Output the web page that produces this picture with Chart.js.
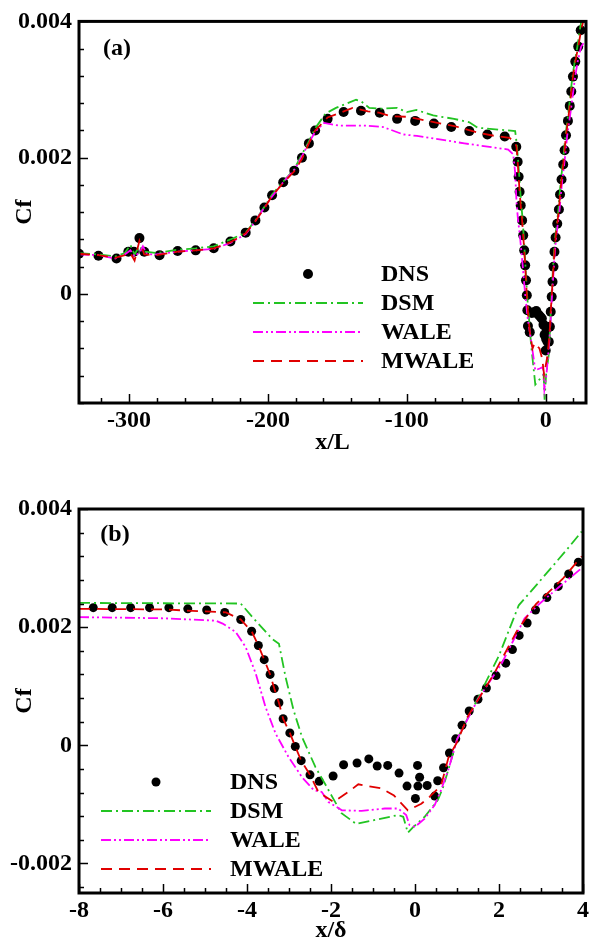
<!DOCTYPE html>
<html><head><meta charset="utf-8">
<script src="https://cdn.jsdelivr.net/npm/chart.js@4"></script>
<style>
html,body{margin:0;padding:0;background:#fff;width:592px;height:943px;overflow:hidden}
canvas{position:absolute;left:0}
#ca{top:0}#cb{top:470px}
</style></head>
<body>
<canvas id="ca" width="592" height="470"></canvas>
<canvas id="cb" width="592" height="473"></canvas>
<script>
// ---------- Panel (a) data : [x/L, Cf] ----------
const dnsA = [[-336,0.00059],[-322,0.00056],[-309,0.00052],[-300.5,0.00062],[-296.5,0.00062],[-292.5,0.00082],[-289,0.00062],[-278,0.00057],[-265,0.00063],[-252,0.00064],[-239,0.00067],[-227,0.00077],[-216,0.0009],[-209,0.00108],[-202.5,0.00127],[-197,0.00145],[-189,0.00164],[-181,0.00181],[-175.5,0.002],[-170.5,0.00221],[-166,0.0024],[-157,0.00257],[-145.5,0.00267],[-133,0.00269],[-119.5,0.00266],[-107,0.00257],[-94,0.00254],[-80.5,0.0025],[-68,0.00245],[-55,0.00239],[-42,0.00234],[-29.5,0.00231],[-21.2,0.00216],[-20.2,0.00194],[-19.5,0.00172],[-18.8,0.0015],[-18,0.0013],[-17,0.00108],[-16.2,0.00086],[-15.5,0.00064],[-14.8,0.00042],[-14.2,0.0002],[-13.6,-0.00002],[-13.2,-0.00024],[-12.8,-0.00047],[-11.5,-0.00056],[-10,-0.00028],[-8.5,-0.00027],[-6.8,-0.00025],[-5.3,-0.0003],[-4,-0.00033],[-2.8,-0.00036],[-1.6,-0.00045],[-0.8,-0.0006],[0,-0.00083],[0.3,-0.00066],[0.6,-0.00052],[1.3,-0.0007],[2.2,-0.0007],[3,-0.00048],[3.6,-0.00026],[4.3,-0.00004],[4.9,0.00018],[5.6,0.0004],[6.3,0.00062],[7.1,0.00083],[8.3,0.00103],[9.5,0.00124],[10.3,0.00146],[11.4,0.00168],[12.6,0.0019],[13.6,0.00211],[14.6,0.00233],[16,0.00254],[17.3,0.00276],[18.4,0.00297],[19.6,0.00319],[21.3,0.00341],[23.4,0.00363],[25.2,0.00387]];
const dsmA = [[-336,0.0006],[-322,0.00058],[-310,0.00055],[-303,0.0006],[-299,0.00072],[-296,0.00058],[-292.5,0.0007],[-289,0.00062],[-280,0.0006],[-265,0.00065],[-252,0.00067],[-239,0.0007],[-227,0.0008],[-216,0.0009],[-209,0.00108],[-202.5,0.00128],[-197,0.00146],[-189,0.00165],[-181,0.00183],[-176,0.00203],[-171,0.00222],[-166,0.00243],[-158.4,0.00265],[-151,0.00273],[-136.5,0.00285],[-133,0.00283],[-127,0.00273],[-118,0.00272],[-107,0.00273],[-100,0.00267],[-93,0.0027],[-81,0.00262],[-66,0.00257],[-55,0.00252],[-49,0.00244],[-22,0.00239],[-20.8,0.00219],[-19.8,0.00194],[-19,0.00172],[-18.3,0.0015],[-17.5,0.0013],[-16.6,0.00108],[-15.9,0.00086],[-15.2,0.00064],[-14.6,0.00042],[-14,0.0002],[-13.4,-0.00002],[-12.3,-0.0003],[-10.5,-0.00075],[-7.5,-0.00133],[-1.5,-0.00118],[-0.8,-0.00155],[0.3,-0.00118],[2.2,-0.00089],[3,-0.00055],[3.6,-0.0003],[4.1,-0.00004],[4.7,0.00018],[5.3,0.0004],[6,0.00062],[6.8,0.00083],[8,0.00103],[9.2,0.00124],[10,0.00146],[11,0.00168],[12.2,0.0019],[13.2,0.00211],[14.2,0.00233],[15.6,0.00254],[16.9,0.00276],[18,0.00297],[19.2,0.00319],[20.9,0.00341],[22.8,0.00363],[24.5,0.00387],[25.6,0.004]];
const waleA = [[-336,0.00058],[-322,0.00057],[-310,0.00052],[-303,0.00058],[-299,0.00064],[-296,0.00055],[-292,0.00062],[-290,0.0007],[-287,0.00058],[-280,0.00058],[-265,0.00062],[-252,0.00064],[-239,0.00066],[-227,0.00075],[-216,0.00088],[-209,0.00107],[-202.5,0.00127],[-197,0.00143],[-189,0.00164],[-181,0.00182],[-176,0.002],[-171,0.0022],[-166,0.00238],[-159.6,0.00251],[-148.7,0.00247],[-129,0.00247],[-117,0.00245],[-102.4,0.00234],[-92.7,0.00232],[-83,0.00229],[-58.6,0.00221],[-27,0.00212],[-23.4,0.00205],[-22,0.00178],[-21,0.00134],[-20,0.0011],[-18.6,0.00086],[-16.5,0.0004],[-15,0.00004],[-13,-0.00035],[-10.2,-0.00073],[-7.5,-0.00112],[-3.9,-0.00109],[-2,-0.00107],[-1,-0.0014],[0.5,-0.00119],[2.5,-0.00072],[3.5,-0.0004],[4.3,-0.0001],[5.2,0.00018],[5.9,0.0004],[6.6,0.00062],[7.5,0.00083],[8.7,0.00103],[10,0.00124],[10.9,0.00146],[12,0.00168],[13.3,0.0019],[14.4,0.00211],[15.5,0.00233],[17,0.00254],[18.5,0.00276],[19.8,0.00297],[21.2,0.00319],[23,0.00341],[25.5,0.00363],[28.5,0.00372]];
const mwaleA = [[-336,0.00059],[-322,0.00057],[-310,0.00053],[-303,0.00057],[-299,0.0006],[-296,0.00049],[-292.5,0.00078],[-289,0.00058],[-280,0.00057],[-265,0.00062],[-252,0.00064],[-239,0.00067],[-227,0.00076],[-216,0.00089],[-209,0.00107],[-202.5,0.00126],[-197,0.00144],[-189,0.00163],[-181,0.0018],[-175.5,0.00198],[-170.5,0.00221],[-166,0.0024],[-157,0.00259],[-148,0.00266],[-139,0.00273],[-128,0.00268],[-120,0.00266],[-112,0.00261],[-100,0.0026],[-92,0.00257],[-78,0.00251],[-65,0.00246],[-49,0.00237],[-37,0.00232],[-26,0.00229],[-22,0.00222],[-21,0.00216],[-20.2,0.00194],[-19.5,0.00172],[-18.8,0.0015],[-18,0.0013],[-17,0.00108],[-16.2,0.00086],[-15.5,0.00064],[-14.8,0.00042],[-14.2,0.0002],[-13.6,-0.00002],[-12.8,-0.00026],[-11.5,-0.00055],[-9.5,-0.0008],[-8,-0.00072],[-6.3,-0.00076],[-4.5,-0.0008],[-2.5,-0.00095],[-1.2,-0.00118],[0,-0.00105],[1,-0.00094],[2,-0.00075],[3,-0.0005],[3.6,-0.00026],[4.3,-0.00004],[4.9,0.00018],[5.6,0.0004],[6.3,0.00062],[7.1,0.00083],[8.3,0.00103],[9.5,0.00124],[10.3,0.00146],[11.4,0.00168],[12.6,0.0019],[13.6,0.00211],[14.6,0.00233],[16,0.00254],[17.3,0.00276],[18.4,0.00297],[19.6,0.00319],[21.3,0.00341],[23.4,0.00363],[25.5,0.00387],[27,0.004]];

// ---------- Panel (b) data : [x/delta, Cf] ----------
const dnsB = [[-7.66,0.00233],[-7.21,0.00233],[-6.77,0.00233],[-6.32,0.00233],[-5.86,0.00233],[-5.41,0.00231],[-4.96,0.00229],[-4.53,0.00225],[-4.15,0.00213],[-3.89,0.00193],[-3.73,0.00169],[-3.59,0.00145],[-3.45,0.0012],[-3.35,0.00096],[-3.24,0.00072],[-3.14,0.00045],[-2.98,0.00021],[-2.85,-0.00002],[-2.71,-0.00026],[-2.5,-0.0005],[-2.28,-0.00061],[-1.95,-0.00052],[-1.7,-0.00033],[-1.38,-0.0003],[-1.1,-0.00023],[-0.9,-0.00035],[-0.65,-0.00034],[-0.38,-0.00047],[-0.19,-0.00069],[0.01,-0.0009],[0.07,-0.00069],[0.06,-0.00034],[0.11,-0.00054],[0.29,-0.00068],[0.47,-0.00086],[0.54,-0.0006],[0.68,-0.00038],[0.82,-0.00013],[0.97,0.00011],[1.12,0.00034],[1.29,0.00058],[1.5,0.00078],[1.7,0.00097],[1.93,0.00118],[2.16,0.00139],[2.32,0.00162],[2.48,0.00186],[2.67,0.00207],[2.87,0.00229],[3.14,0.0025],[3.41,0.00269],[3.66,0.0029],[3.89,0.0031]];
const dsmB = [[-8,0.00241],[-4.15,0.0024],[-3.87,0.00217],[-3.4,0.0018],[-3.24,0.00172],[-3.08,0.00115],[-2.89,0.00059],[-2.69,0.00014],[-2.37,-0.00037],[-2.12,-0.00068],[-1.98,-0.00086],[-1.75,-0.00115],[-1.4,-0.00133],[-0.4,-0.00118],[-0.28,-0.00121],[-0.17,-0.00148],[-0.05,-0.00139],[0.23,-0.00121],[0.54,-0.00093],[0.66,-0.00073],[0.8,-0.0004],[1.0,0.0001],[1.5,0.0008],[2.0,0.00152],[2.47,0.00237],[2.9,0.00272],[3.6,0.0033],[3.97,0.00362]];
const waleB = [[-8,0.00217],[-6,0.00215],[-4.75,0.00211],[-4.58,0.00206],[-4.27,0.00192],[-4.03,0.00166],[-3.79,0.00121],[-3.56,0.00065],[-3.32,0.0002],[-3.01,-0.0002],[-2.69,-0.00054],[-2.41,-0.00076],[-2.22,-0.00079],[-2.06,-0.00096],[-1.74,-0.0011],[-1.27,-0.00111],[-0.72,-0.00107],[-0.4,-0.00107],[-0.21,-0.00118],[-0.13,-0.00135],[0,-0.00138],[0.23,-0.00124],[0.47,-0.00101],[0.62,-0.00076],[0.8,-0.0004],[1.0,0.0001],[1.5,0.00078],[2.06,0.00138],[2.61,0.00215],[2.97,0.0024],[3.43,0.00268],[3.97,0.003]];
const mwaleB = [[-8,0.00231],[-6,0.0023],[-4.5,0.00225],[-4.15,0.00213],[-3.89,0.00193],[-3.73,0.00169],[-3.59,0.00145],[-3.45,0.0012],[-3.35,0.00096],[-3.24,0.00072],[-3.14,0.00045],[-2.98,0.00021],[-2.85,-0.00002],[-2.71,-0.00026],[-2.5,-0.0005],[-2.3,-0.00079],[-1.94,-0.00096],[-1.59,-0.00079],[-1.35,-0.00066],[-0.8,-0.00073],[-0.5,-0.00085],[-0.17,-0.0011],[0.15,-0.00099],[0.35,-0.00087],[0.62,-0.00068],[0.8,-0.0002],[1.0,0.00005],[1.25,0.00048],[1.88,0.00121],[2.43,0.00194],[2.88,0.00239],[3.52,0.00282],[3.97,0.0032]];

// ---------- ticks / labels ----------
const seriesNames = ['DNS','DSM','WALE','MWALE'];
const xTicksA = [-300,-200,-100,0];
const xTickLabelsA = ['-300','-200','-100','0'];
const yTicksA = [0,0.002,0.004];
const yTickLabelsA = ['0','0.002','0.004'];
const xTicksB = [-8,-6,-4,-2,0,2,4];
const xTickLabelsB = ['-8','-6','-4','-2','0','2','4'];
const yTicksB = [-0.002,0,0.002,0.004];
const yTickLabelsB = ['-0.002','0','0.002','0.004'];

const FONT = "'Liberation Serif','Times New Roman',serif";
const C_GREEN = '#22c422', C_MAG = '#ff00ff', C_RED = '#e00000';
const toPts = a => a.map(p => ({x:p[0], y:p[1]}));

const framePlugin = {
  id: 'frame',
  afterDraw(chart, args, o) {
    const ctx = chart.ctx, ca = chart.chartArea, xs = chart.scales.x, ys = chart.scales.y;
    ctx.save();
    ctx.strokeStyle = '#000';
    ctx.lineWidth = 1.5;
    const eps = 1e-9;
    // inward ticks on x
    for (let v = Math.ceil(xs.min / o.xMinor) * o.xMinor; v <= xs.max + eps; v += o.xMinor) {
      const px = Math.round(xs.getPixelForValue(v)) + 0.5;
      const major = Math.abs(v / o.xMajor - Math.round(v / o.xMajor)) < 1e-6;
      ctx.beginPath(); ctx.moveTo(px, ca.bottom); ctx.lineTo(px, ca.bottom - (major ? 9 : 5)); ctx.stroke();
    }
    for (let v = Math.ceil(ys.min / o.yMinor - 1e-6) * o.yMinor; v <= ys.max + eps; v += o.yMinor) {
      const py = Math.round(ys.getPixelForValue(v)) + 0.5;
      const major = Math.abs(v / o.yMajor - Math.round(v / o.yMajor)) < 1e-6;
      ctx.beginPath(); ctx.moveTo(ca.left, py); ctx.lineTo(ca.left + (major ? 9 : 5), py); ctx.stroke();
    }
    // frame
    ctx.lineWidth = 3;
    ctx.strokeRect(ca.left, ca.top, ca.right - ca.left, ca.bottom - ca.top);
    // panel label
    ctx.fillStyle = '#000';
    ctx.font = 'bold 24px ' + FONT;
    ctx.textAlign = 'center'; ctx.textBaseline = 'middle';
    ctx.fillText(o.label, o.labelX, o.labelY);
    // legend
    const L = o.legend;
    chart.data.datasets.forEach((ds, i) => {
      const y = L.y0 + i * L.dy;
      if (ds.showLine === false) {
        ctx.beginPath(); ctx.fillStyle = '#000';
        ctx.arc(L.markX, y, ds.pointRadius, 0, Math.PI * 2); ctx.fill();
      } else {
        ctx.beginPath(); ctx.strokeStyle = ds.borderColor; ctx.lineWidth = ds.borderWidth;
        ctx.setLineDash(ds.borderDash); ctx.moveTo(L.lx0, y); ctx.lineTo(L.lx1, y); ctx.stroke();
        ctx.setLineDash([]);
      }
      ctx.fillStyle = '#000'; ctx.textAlign = 'left'; ctx.textBaseline = 'middle';
      ctx.fillText(ds.label, L.tx, y + 1);
    });
    ctx.restore();
  }
};

function makeChart(id, d, cfg) {
  const datasets = [
    {label: seriesNames[0], data: toPts(d[0]), showLine: false, pointRadius: cfg.r, pointBackgroundColor: '#000', pointBorderWidth: 0, order: 5},
    {label: seriesNames[1], data: toPts(d[1]), borderColor: C_GREEN, borderWidth: 1.8, borderDash: [11,4,2,4], pointRadius: 0, order: 3},
    {label: seriesNames[2], data: toPts(d[2]), borderColor: C_MAG, borderWidth: 1.8, borderDash: [10,3,2,3,2,3], pointRadius: 0, order: 2},
    {label: seriesNames[3], data: toPts(d[3]), borderColor: C_RED, borderWidth: 1.8, borderDash: [11,7], pointRadius: 0, order: 1}
  ];
  const tickFont = {family: FONT, size: 24, weight: 'bold'};
  return new Chart(document.getElementById(id), {
    type: 'line',
    data: {datasets},
    options: {
      responsive: false, animation: false, devicePixelRatio: 1,
      layout: {padding: {left: 0, right: 6, top: cfg.top, bottom: 0}},
      elements: {line: {tension: 0, fill: false}},
      plugins: {legend: {display: false}, tooltip: {enabled: false},
        frame: cfg.frame},
      scales: {
        x: {type: 'linear', min: cfg.xmin, max: cfg.xmax,
          grid: {display: false, drawTicks: false}, border: {display: false},
          afterBuildTicks: s => { s.ticks = cfg.xt.map(v => ({value: v})); },
          afterFit: s => { s.height = cfg.xh; },
          ticks: {font: tickFont, color: '#000', padding: 3, maxRotation: 0, autoSkip: false,
            callback: (v) => cfg.xl[cfg.xt.indexOf(v)]},
          title: {display: true, text: cfg.xTitle, color: '#000', font: {family: FONT, size: 24, weight: 'bold', lineHeight: 1}, padding: {top: 0, bottom: cfg.xtp}}
        },
        y: {type: 'linear', min: cfg.ymin, max: cfg.ymax,
          grid: {display: false, drawTicks: false}, border: {display: false},
          afterBuildTicks: s => { s.ticks = cfg.yt.map(v => ({value: v})); },
          afterFit: s => { s.width = 79; },
          ticks: {font: tickFont, color: '#000', padding: 7,
            callback: (v) => cfg.yl[cfg.yt.indexOf(v)]},
          title: {display: true, text: 'Cf', color: '#000', font: {family: FONT, size: 24, weight: 'bold', lineHeight: 1}, padding: {top: 13, bottom: 0}}
        }
      }
    },
    plugins: [framePlugin]
  });
}

makeChart('ca', [dnsA, dsmA, waleA, mwaleA], {
  r: 5, top: 18, xmin: -336, xmax: 29, ymin: -0.0016, ymax: 0.004,
  xt: xTicksA, xl: xTickLabelsA, yt: yTicksA, yl: yTickLabelsA,
  xh: 67, xtp: 15, xTitle: 'x/L',
  frame: {xMinor: 20, xMajor: 100, yMinor: 0.0004, yMajor: 0.002, label: '(a)', labelX: 117, labelY: 49,
    legend: {y0: 274, dy: 29, markX: 308, lx0: 253, lx1: 363, tx: 381}}
});
makeChart('cb', [dnsB, dsmB, waleB, mwaleB], {
  r: 4.5, top: 39, xmin: -8, xmax: 4, ymin: -0.0025, ymax: 0.004,
  xt: xTicksB, xl: xTickLabelsB, yt: yTicksB, yl: yTickLabelsB,
  xh: 50, xtp: 0, xTitle: 'x/\u03B4',
  frame: {xMinor: 0.5, xMajor: 2, yMinor: 0.0004, yMajor: 0.002, label: '(b)', labelX: 115, labelY: 65,
    legend: {y0: 312, dy: 29, markX: 156, lx0: 101, lx1: 211, tx: 230}}
});
</script>
</body></html>
